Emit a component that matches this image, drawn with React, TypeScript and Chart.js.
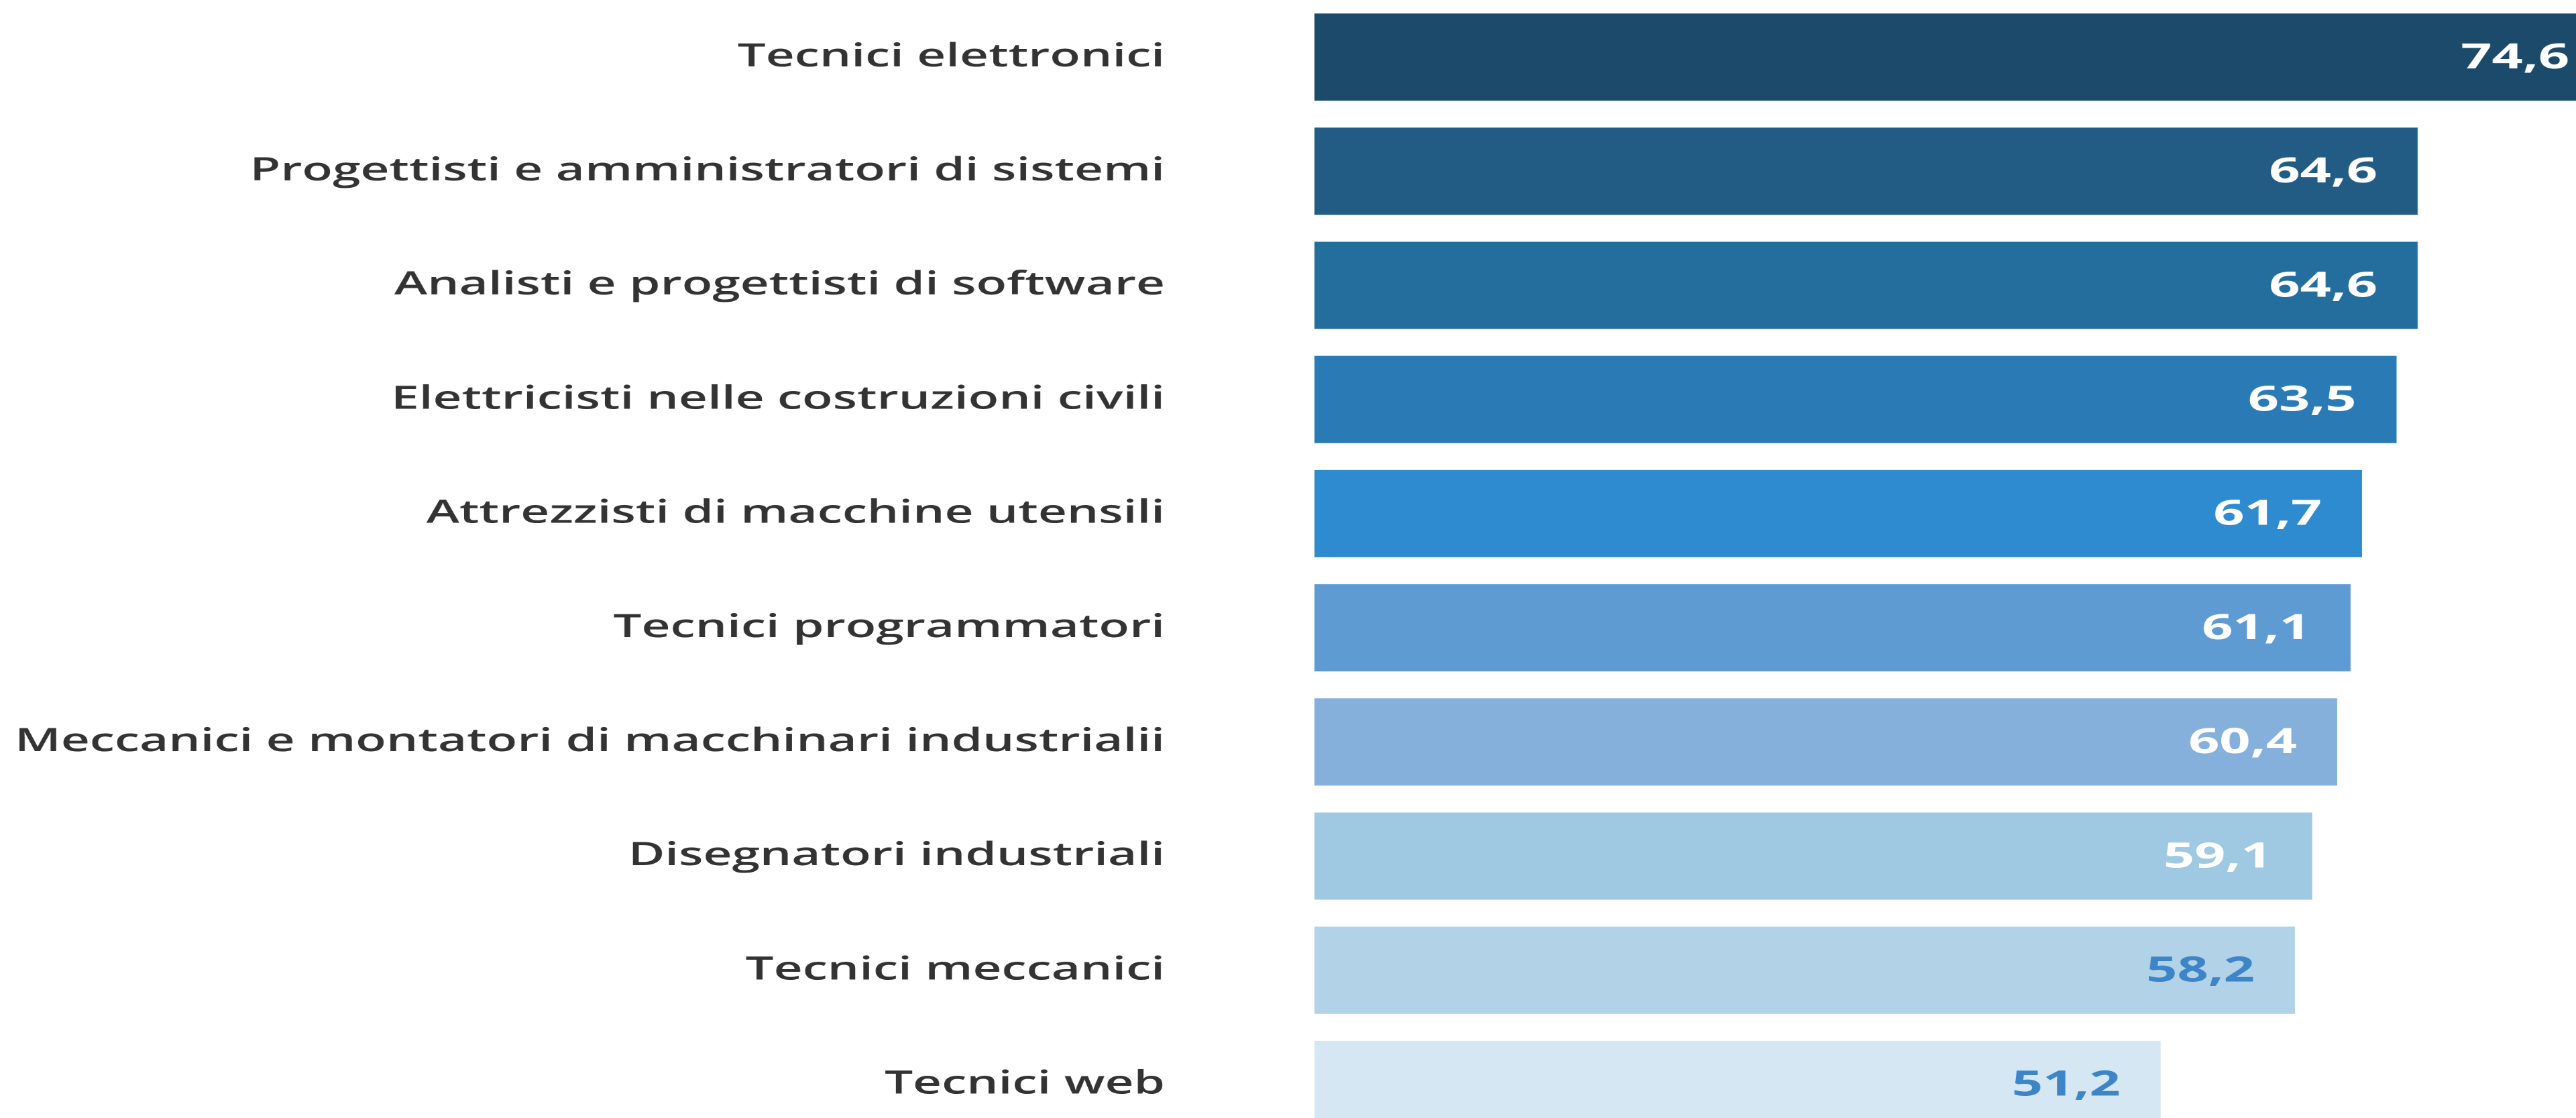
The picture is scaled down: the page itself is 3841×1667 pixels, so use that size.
import React, { useEffect, useRef } from "react";
import { Chart, registerables } from "chart.js";

Chart.register(...registerables);

const categories = [
  "Tecnici elettronici",
  "Progettisti e amministratori di sistemi",
  "Analisti e progettisti di software",
  "Elettricisti nelle costruzioni civili",
  "Attrezzisti di macchine utensili",
  "Tecnici programmatori",
  "Meccanici e montatori di macchinari industrialii",
  "Disegnatori industriali",
  "Tecnici meccanici",
  "Tecnici web",
];

const values = [74.6, 64.6, 64.6, 63.5, 61.7, 61.1, 60.4, 59.1, 58.2, 51.2];

const barColors = [
  "#1b4a6a",
  "#225c84",
  "#236e9c",
  "#2a7bb5",
  "#2f8bcf",
  "#5f9bd3",
  "#86b0dc",
  "#9fc8e2",
  "#b2d2e7",
  "#d5e7f3",
];

const valueTextColors = [
  "#ffffff",
  "#ffffff",
  "#ffffff",
  "#ffffff",
  "#ffffff",
  "#ffffff",
  "#ffffff",
  "#ffffff",
  "#3d85c6",
  "#3d85c6",
];

const formatValue = (v: number) => v.toFixed(1).replace(".", ",");

// layout (the reference image is horizontally stretched)
const S = 1.555;
const VIEW_W = 3841;
const VIEW_H = 1667;
const CHART_H = 1702;
const CHART_LEFT = 1960 / S;
const LABEL_RIGHT = 1737 / S;
const VALUE_GAP = 60 / S;

const valueLabelPlugin = {
  id: "valueLabels",
  afterDatasetsDraw(chart: any) {
    const ctx = chart.ctx;
    const meta = chart.getDatasetMeta(0);
    ctx.save();
    ctx.font = "700 52px 'Open Sans'";
    ctx.textAlign = "right";
    ctx.textBaseline = "middle";
    meta.data.forEach((bar: any, i: number) => {
      ctx.fillStyle = valueTextColors[i];
      ctx.fillText(formatValue(values[i]), bar.x - VALUE_GAP, bar.y + 2);
    });
    ctx.restore();
  },
};

export default function App() {
  const canvasRef = useRef<HTMLCanvasElement | null>(null);

  useEffect(() => {
    if (!canvasRef.current) return;
    const chart = new Chart(canvasRef.current, {
      type: "bar",
      data: {
        labels: categories,
        datasets: [
          {
            data: values,
            backgroundColor: barColors,
            borderWidth: 0,
            categoryPercentage: 1,
            barPercentage: 0.764,
          },
        ],
      },
      options: {
        indexAxis: "y",
        animation: false,
        responsive: true,
        maintainAspectRatio: false,
        devicePixelRatio: 2,
        layout: { padding: 0 },
        plugins: {
          legend: { display: false },
          tooltip: { enabled: false },
          title: { display: false },
        },
        scales: {
          x: {
            type: "linear",
            min: 7.1,
            max: 72.85,
            display: false,
          },
          y: {
            type: "category",
            position: "left",
            grid: { display: false, drawTicks: false },
            border: { display: false },
            ticks: {
              padding: CHART_LEFT - LABEL_RIGHT,
              color: "#333333",
              font: { family: "'Open Sans'", size: 48, weight: "600" },
            },
            afterFit: (scale: any) => {
              scale.width = CHART_LEFT;
              scale.paddingTop = 0;
              scale.paddingBottom = 0;
            },
          },
        },
      },
      plugins: [valueLabelPlugin],
    });
    return () => chart.destroy();
  }, []);

  return (
    <div
      style={{
        position: "fixed",
        left: 0,
        top: 0,
        width: VIEW_W,
        height: VIEW_H,
        overflow: "hidden",
        background: "#ffffff",
      }}
    >
      <div
        style={{
          position: "absolute",
          left: 0,
          top: 0,
          width: VIEW_W / S,
          height: CHART_H,
          transform: `scaleX(${S})`,
          transformOrigin: "0 0",
        }}
      >
        <canvas ref={canvasRef} />
      </div>
    </div>
  );
}
